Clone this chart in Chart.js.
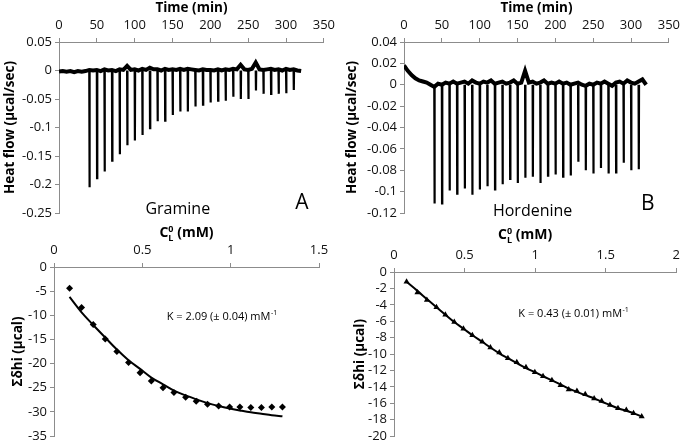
<!DOCTYPE html>
<html lang="en">
<head>
  <meta charset="UTF-8" />
  <title>ITC titration: Gramine and Hordenine</title>
  <script src="https://cdn.jsdelivr.net/npm/chart.js"></script>
  <style>
    body { margin: 0; background: #fff; }
    .panel { position: absolute; }
  </style>
</head>
<body>
  <canvas id="chartA" class="panel" width="340" height="225" style="left:0;top:0"></canvas>
  <canvas id="chartB" class="panel" width="345" height="225" style="left:340px;top:0"></canvas>
  <canvas id="chartC" class="panel" width="340" height="222" style="left:0;top:225px"></canvas>
  <canvas id="chartD" class="panel" width="345" height="222" style="left:340px;top:225px"></canvas>

  <script>
    // --- raw thermograms (min, µcal/sec) ---
    const baseTimes = [0,5,10,15,20,25,30,35,40,45,50,55,60,65,70,75,80,85,90,95,100,105,110,115,120,125,130,135,140,145,150,155,160,165,170,175,180,185,190,195,200,205,210,215,220,225,230,235,240,245,250,255,260,265,270,275,280,285,290,295,300,305,310,315,320];
    const baseA = [-0.002,-0.001,-0.002,-0.001,-0.003,-0.001,-0.002,-0.001,0.001,0.000,0.001,-0.001,0.002,0.000,0.001,-0.001,0.002,0.001,0.008,0.001,0.002,0.000,0.003,0.001,0.005,0.002,0.002,0.000,0.003,0.001,0.002,0.001,0.003,0.001,0.003,0.002,0.001,0.000,0.002,0.001,0.001,0.000,0.002,0.000,0.002,0.001,0.003,0.002,0.010,0.002,0.001,0.003,0.014,0.002,0.001,0.002,0.003,0.001,0.002,0.000,0.003,0.001,0.002,0.000,-0.001];
    const baseB = [0.018,0.013,0.009,0.006,0.004,0.003,0.002,0.000,-0.002,0.001,0.000,0.002,0.001,0.003,0.001,0.002,0.003,0.001,0.004,0.002,0.001,0.003,0.002,0.004,0.001,0.002,0.003,0.001,0.002,0.004,0.001,0.002,0.013,0.002,0.003,0.001,0.002,0.004,0.001,0.002,0.001,0.003,0.001,0.002,0.000,0.001,0.002,0.000,-0.001,0.001,0.000,0.002,0.001,0.003,0.001,-0.001,0.002,0.003,0.001,0.004,0.002,0.001,0.003,0.005,0.000];

    const injTimes = [40,50,60,70,80,90,100,110,120,130,140,150,160,170,180,190,200,210,220,230,240,250,260,270,280,290,300,310];
    const peaksA = [-0.205,-0.189,-0.177,-0.158,-0.147,-0.131,-0.123,-0.113,-0.101,-0.089,-0.088,-0.078,-0.072,-0.072,-0.063,-0.060,-0.056,-0.053,-0.053,-0.046,-0.050,-0.050,-0.035,-0.041,-0.041,-0.041,-0.040,-0.034];
    const peaksB = [-0.111,-0.111,-0.099,-0.102,-0.097,-0.103,-0.098,-0.095,-0.098,-0.093,-0.088,-0.092,-0.087,-0.086,-0.092,-0.085,-0.084,-0.086,-0.085,-0.072,-0.080,-0.083,-0.078,-0.083,-0.082,-0.073,-0.080,-0.079];

    // --- cumulative heats (mM, µcal) ---
    const concC = [0.088,0.156,0.222,0.290,0.356,0.422,0.487,0.551,0.617,0.679,0.745,0.805,0.869,0.932,0.994,1.052,1.114,1.174,1.233,1.293];
    const heatC = [-4.4,-8.4,-11.9,-14.9,-17.5,-19.8,-21.9,-23.6,-25.0,-26.0,-27.0,-27.8,-28.4,-28.8,-29.0,-29.0,-29.1,-29.1,-29.0,-29.0];
    const fitC  = [-6.2,-9.4,-12.0,-14.6,-17.1,-19.3,-21.1,-22.9,-24.3,-25.6,-26.6,-27.4,-28.2,-28.8,-29.3,-29.7,-30.1,-30.4,-30.7,-30.9];

    const concD = [0.089,0.166,0.233,0.301,0.364,0.427,0.492,0.555,0.625,0.683,0.746,0.807,0.870,0.935,0.998,1.056,1.119,1.180,1.238,1.296,1.355,1.418,1.471,1.530,1.587,1.646,1.697,1.755];
    const heatD = [-1.2,-2.5,-3.4,-4.3,-5.2,-6.1,-6.9,-7.7,-8.5,-9.2,-9.8,-10.5,-11.0,-11.6,-12.2,-12.7,-13.2,-13.8,-14.3,-14.5,-14.9,-15.4,-15.7,-16.2,-16.6,-16.8,-17.2,-17.6];
    const fitD  = [-1.2,-2.3,-3.3,-4.3,-5.2,-6.1,-6.9,-7.7,-8.5,-9.2,-9.9,-10.5,-11.1,-11.7,-12.2,-12.7,-13.2,-13.7,-14.2,-14.6,-15.0,-15.4,-15.8,-16.2,-16.6,-16.9,-17.2,-17.6];

    const FONT = "'Open Sans', 'DejaVu Sans', sans-serif";
    const axisColor = '#8c8c8c';

    function pairs(xs, ys) {
      return xs.map((x, i) => ({ x, y: ys[i] }));
    }

    function spikes(times, peaks) {
      const pts = [];
      times.forEach((t, i) => {
        pts.push({ x: t, y: 0 }, { x: t + 0.3, y: peaks[i] }, { x: t + 0.6, y: 0 }, { x: t + 0.6, y: null });
      });
      return pts;
    }

    function axis(min, max, step, position, title, size, titlePad, tickPad) {
      return {
        type: 'linear', position, min, max,
        ticks: {
          stepSize: step, color: '#111', font: { family: FONT, size: 13 }, padding: tickPad,
          maxRotation: 0, autoSkip: false,
          callback: v => String(+v.toFixed(4))
        },
        grid: { drawOnChartArea: false, color: axisColor, tickLength: 4 },
        border: { color: axisColor, width: 1 },
        title: { display: !!title, text: title, color: '#000', font: { family: FONT, size: 13.5, weight: 'bold' }, padding: { top: titlePad, bottom: 0 } },
        afterFit(scale) {
          if (scale.isHorizontal()) scale.height = size; else scale.width = size;
        }
      };
    }

    // free text in data coordinates, plus the C0L axis title
    const notesPlugin = {
      id: 'notes',
      afterDraw(chart, args, opts) {
        const { ctx, scales: { x, y }, chartArea } = chart;
        ctx.save();
        ctx.fillStyle = '#000';
        ctx.textBaseline = 'middle';
        (opts.items || []).forEach(n => {
          ctx.font = `${n.size}px ${FONT}`;
          ctx.textAlign = n.align || 'center';
          const px = x.getPixelForValue(n.x), py = y.getPixelForValue(n.y);
          ctx.fillText(n.text, px, py);
          if (n.sup) {
            const w = ctx.measureText(n.text).width;
            ctx.font = `${n.size * 0.65}px ${FONT}`;
            ctx.textAlign = 'left';
            ctx.fillText(n.sup, px + w + 0.5, py - n.size * 0.35);
          }
        });
        if (opts.concTitle) {
          const t = opts.concTitle;
          const big = `bold 14px ${FONT}`, small = `bold 9px ${FONT}`;
          ctx.font = big;
          const wC = ctx.measureText('C').width;
          const wRest = ctx.measureText(' (mM)').width;
          ctx.font = small;
          const wS = Math.max(ctx.measureText('0').width, ctx.measureText('L').width);
          let cx = (chartArea.left + chartArea.right) / 2 + t.dx - (wC + wS + wRest) / 2;
          ctx.textAlign = 'left';
          ctx.font = big;
          ctx.fillText('C', cx, t.y);
          cx += wC;
          ctx.font = small;
          ctx.fillText('0', cx, t.y - 4);
          ctx.fillText('L', cx, t.y + 5);
          cx += wS;
          ctx.font = big;
          ctx.fillText(' (mM)', cx, t.y);
        }
        ctx.restore();
      }
    };

    const common = {
      responsive: false,
      animation: false,
      events: []
    };

    function thermogram(id, base, peaks, yMin, yMax, yStep, yWidth, titlePad, notes) {
      new Chart(document.getElementById(id), {
        type: 'scatter',
        data: {
          datasets: [
            { data: pairs(baseTimes, base), showLine: true, borderColor: '#000', borderWidth: 4, pointRadius: 0, tension: 0 },
            { data: spikes(injTimes, peaks), showLine: true, borderColor: '#000', borderWidth: 2.2, pointRadius: 0, spanGaps: false }
          ]
        },
        options: {
          ...common,
          layout: { padding: { left: 0, top: 0, right: 12, bottom: 12 } },
          plugins: { legend: { display: false }, tooltip: { enabled: false }, notes: { items: notes } },
          scales: {
            x: axis(0, 350, 50, 'top', 'Time (min)', 42, 0, 5),
            y: axis(yMin, yMax, yStep, 'left', 'Heat flow (µcal/sec)', yWidth, titlePad, 3)
          }
        },
        plugins: [notesPlugin]
      });
    }

    thermogram('chartA', baseA, peaksA, -0.25, 0.05, 0.05, 59, 2, [
      { text: 'Gramine', x: 157, y: -0.243, size: 16 },
      { text: 'A', x: 321, y: -0.233, size: 21 }
    ]);
    thermogram('chartB', baseB, peaksB, -0.12, 0.04, 0.02, 64, 4, [
      { text: 'Hordenine', x: 170, y: -0.119, size: 16 },
      { text: 'B', x: 322, y: -0.112, size: 21 }
    ]);

    function isotherm(id, xs, ys, fit, marker, xMax, xStep, yMin, yStep, yWidth, xHeight, padRight, padBottom, titlePad, note, concTitle) {
      new Chart(document.getElementById(id), {
        type: 'scatter',
        data: {
          datasets: [
            { data: pairs(xs, ys), pointStyle: marker, pointRadius: 3.5, backgroundColor: '#000', borderColor: '#000', borderWidth: 0 },
            { data: pairs(xs, fit), showLine: true, borderColor: '#000', borderWidth: 2, pointRadius: 0, tension: 0.4, cubicInterpolationMode: 'monotone' }
          ]
        },
        options: {
          ...common,
          layout: { padding: { left: 0, top: 0, right: padRight, bottom: padBottom } },
          plugins: { legend: { display: false }, tooltip: { enabled: false }, notes: { items: [note], concTitle } },
          scales: {
            x: axis(0, xMax, xStep, 'top', '', xHeight, 0, 5),
            y: axis(yMin, 0, yStep, 'left', 'Σδhi (µcal)', yWidth, titlePad, 3)
          }
        },
        plugins: [notesPlugin]
      });
    }

    isotherm('chartC', concC, heatC, fitC, 'rectRot', 1.5, 0.5, -35, 5, 54, 42, 21, 11, 10,
      { text: 'K = 2.09 (± 0.04) mM', sup: '-1', x: 0.638, y: -10.25, size: 11, align: 'left' },
      { dx: 0, y: 8 });
    isotherm('chartD', concD, heatD, fitD, 'triangle', 2, 0.5, -20, 2, 54, 47, 5, 7, 12,
      { text: 'K = 0.43 (± 0.01) mM', sup: '-1', x: 0.881, y: -5.14, size: 11, align: 'left' },
      { dx: -10, y: 10 });
  </script>
</body>
</html>
